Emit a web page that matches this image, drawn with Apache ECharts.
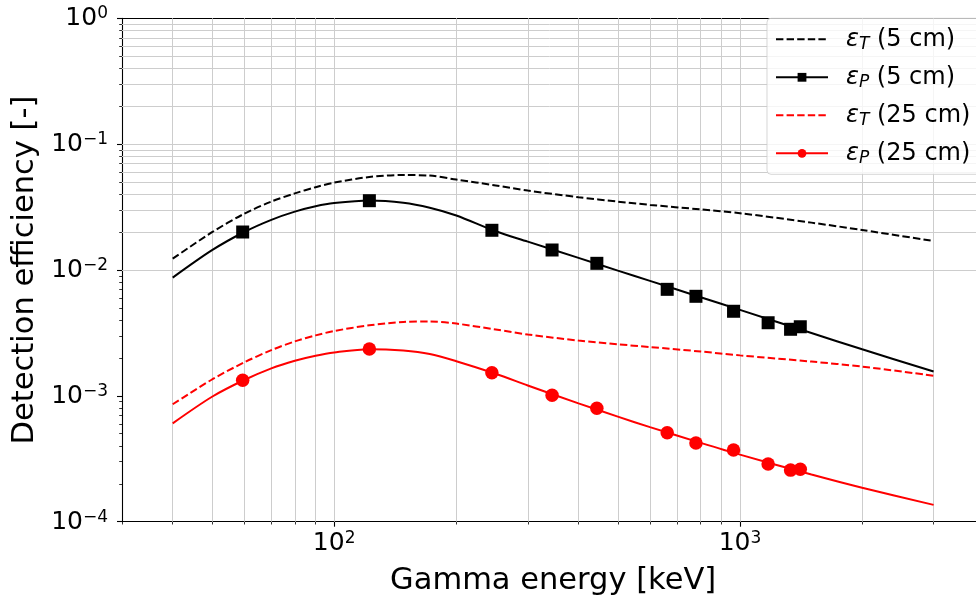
<!DOCTYPE html>
<html>
<head>
<meta charset="utf-8">
<script src="https://cdn.jsdelivr.net/npm/echarts@6/dist/echarts.min.js"></script>
<style>
  html, body { margin: 0; padding: 0; background: #fff; }
  #chart { width: 976px; height: 603px; }
</style>
</head>
<body>
<div id="chart"></div>
<script>
// Energies (keV) at which the efficiency curves are sampled
const energyCurve = [40, 50, 60, 70, 80, 90, 100, 122, 148, 172, 200, 250, 300, 400, 500, 600, 800, 1000, 1500, 2000, 3000];
// Total efficiency, 5 cm
const effTotal5 = [0.01230, 0.01997, 0.02797, 0.03496, 0.04062, 0.04550, 0.04948, 0.05483, 0.05686, 0.05624, 0.05228, 0.04701, 0.04274, 0.03789, 0.03496, 0.03291, 0.03031, 0.02827, 0.02379, 0.02079, 0.01699];
// Full-energy peak efficiency fit, 5 cm
const effPeakFit5 = [0.008701, 0.01437, 0.02004, 0.02505, 0.02911, 0.03208, 0.03401, 0.03566, 0.03425, 0.03126, 0.02710, 0.02030, 0.01681, 0.01248, 0.009890, 0.008190, 0.006079, 0.004818, 0.003157, 0.002344, 0.001561];
// Total efficiency, 25 cm
const effTotal25 = [0.000857, 0.001349, 0.001844, 0.002309, 0.002708, 0.003023, 0.003275, 0.003636, 0.003861, 0.003904, 0.003750, 0.003366, 0.003073, 0.002748, 0.002568, 0.002444, 0.002251, 0.002097, 0.001872, 0.001708, 0.001445];
// Full-energy peak efficiency fit, 25 cm
const effPeakFit25 = [0.000605, 0.000984, 0.001336, 0.001655, 0.001902, 0.002084, 0.002211, 0.002348, 0.002289, 0.002150, 0.001885, 0.001497, 0.001209, 0.000871, 0.000684, 0.000564, 0.000423, 0.000341, 0.000237, 0.000186, 0.000136];

// Calibration gamma lines (keV) and measured peak efficiencies
const energyLines = [59.5, 122.1, 244.7, 344.3, 443.9, 661.7, 778.9, 964.1, 1173.2, 1332.5, 1408.0];
const effPeak5 = [0.02004, 0.03554, 0.02068, 0.01442, 0.01130, 0.00702, 0.00618, 0.00470, 0.00381, 0.00338, 0.00354];
const effPeak25 = [0.001329, 0.002357, 0.001528, 0.001010, 0.000796, 0.000510, 0.000422, 0.000371, 0.000287, 0.000257, 0.000261];

// Axis ticks
const xMajorTicks = [100, 1000];
const xMinorTicks = [30, 40, 50, 60, 70, 80, 90, 200, 300, 400, 500, 600, 700, 800, 900, 2000, 3000, 4000];
const yMajorTicks = [1e-4, 1e-3, 1e-2, 1e-1, 1];
const minorMultipliers = [2, 3, 4, 5, 6, 7, 8, 9];
const yMinorTicks = [];
[-4, -3, -2, -1].forEach(function (p) {
  minorMultipliers.forEach(function (m) { yMinorTicks.push(+(m * Math.pow(10, p)).toPrecision(3)); });
});

const seriesNames = ['εT (5 cm)', 'εP (5 cm)', 'εT (25 cm)', 'εP (25 cm)'];

const FONT = 'DejaVu Sans';
const GRID_COLOR = '#cdcdcd';
const CURVE_SMOOTH = 0.3;

const xRange = { min: 30, max: 4000 };
const yRange = { min: 1e-4, max: 1 };

function pairs(xs, ys) { return xs.map(function (x, i) { return [x, ys[i]]; }); }

function powLabel(v) {
  const p = Math.round(Math.log10(v));
  return '{b|10}{s|' + (p < 0 ? '\u2212' + (-p) : String(p)) + '}';
}
const powRich = {
  b: { fontFamily: FONT, fontSize: 25, lineHeight: 26, color: '#000', verticalAlign: 'bottom' },
  s: { fontFamily: FONT, fontSize: 17, lineHeight: 17, color: '#000', verticalAlign: 'top' }
};

// Grid lines at every major and minor tick inside the plotting area
const gridLines = [];
xMajorTicks.concat(xMinorTicks).forEach(function (v) {
  if (v > xRange.min && v < xRange.max) gridLines.push({ xAxis: v });
});
yMajorTicks.concat(yMinorTicks).forEach(function (v) {
  if (v > yRange.min && v < yRange.max) gridLines.push({ yAxis: v });
});

function logAxis(range, extra) {
  return Object.assign({ type: 'log', logBase: 10, min: range.min, max: range.max,
    splitLine: { show: false }, minorTick: { show: false }, minorSplitLine: { show: false } }, extra);
}

const chart = echarts.init(document.getElementById('chart'), null, { renderer: 'canvas' });

chart.setOption({
  animation: false,
  backgroundColor: '#ffffff',
  textStyle: { fontFamily: FONT },
  grid: { left: 122, right: -8.3, top: 18.3, bottom: 81.3, containLabel: false, outerBoundsMode: 'none' },
  legend: {
    orient: 'vertical',
    left: 767,
    top: 18.3,
    padding: [9, 12, 7, 8],
    itemWidth: 52,
    itemHeight: 11,
    itemGap: 12,
    backgroundColor: 'rgba(255,255,255,0.8)',
    borderColor: 'rgba(204,204,204,0.8)',
    borderWidth: 1,
    borderRadius: 4,
    data: [
      { name: seriesNames[0], itemStyle: { opacity: 0 } },
      { name: seriesNames[1] },
      { name: seriesNames[2], itemStyle: { opacity: 0 } },
      { name: seriesNames[3] }
    ],
    formatter: function (name) {
      const m = name.match(/^ε(\w) (.*)$/);
      return '{e|ε}{u|' + m[1] + '}{t| ' + m[2] + '}';
    },
    textStyle: {
      color: '#000',
      rich: {
        e: { fontFamily: FONT, fontSize: 24, fontStyle: 'italic', lineHeight: 28, verticalAlign: 'middle', padding: [0, 0, 0, 13], color: '#000' },
        u: { fontFamily: FONT, fontSize: 17, fontStyle: 'italic', lineHeight: 13, verticalAlign: 'bottom', color: '#000' },
        t: { fontFamily: FONT, fontSize: 24, lineHeight: 28, verticalAlign: 'middle', color: '#000' }
      }
    }
  },
  xAxis: [
    logAxis(xRange, {
      position: 'bottom',
      name: 'Gamma energy [keV]', nameLocation: 'middle', nameGap: 44,
      nameTextStyle: { fontFamily: FONT, fontSize: 30.5, color: '#000' },
      axisLine: { show: true, onZero: false, lineStyle: { color: '#000', width: 1.1 } },
      axisTick: { show: true, inside: false, length: 5, customValues: xMajorTicks, lineStyle: { color: '#000', width: 1.1 } },
      axisLabel: { show: true, margin: 8, customValues: xMajorTicks, formatter: powLabel, rich: powRich }
    }),
    logAxis(xRange, {
      position: 'bottom',
      axisLine: { show: false, onZero: false },
      axisTick: { show: true, inside: false, length: 2.8, customValues: xMinorTicks, lineStyle: { color: '#000', width: 0.8 } },
      axisLabel: { show: false }
    }),
    logAxis(xRange, {
      position: 'top',
      axisLine: { show: true, onZero: false, lineStyle: { color: '#000', width: 1.1 } },
      axisTick: { show: false }, axisLabel: { show: false }
    })
  ],
  yAxis: [
    logAxis(yRange, {
      position: 'left',
      name: 'Detection efficiency [-]', nameLocation: 'middle', nameGap: 80, nameRotate: 90,
      nameTextStyle: { fontFamily: FONT, fontSize: 30.5, color: '#000' },
      axisLine: { show: true, onZero: false, lineStyle: { color: '#000', width: 1.1 } },
      axisTick: { show: true, inside: false, length: 5, customValues: yMajorTicks, lineStyle: { color: '#000', width: 1.1 } },
      axisLabel: { show: true, margin: 14, customValues: yMajorTicks, formatter: powLabel, rich: powRich }
    }),
    logAxis(yRange, {
      position: 'left',
      axisLine: { show: false, onZero: false },
      axisTick: { show: true, inside: false, length: 2.8, customValues: yMinorTicks, lineStyle: { color: '#000', width: 0.8 } },
      axisLabel: { show: false }
    })
  ],
  series: [
    {
      name: 'grid', type: 'line', xAxisIndex: 0, yAxisIndex: 0, data: [], z: 1, silent: true,
      markLine: {
        silent: true, z: 1, animation: false, symbol: ['none', 'none'],
        label: { show: false }, emphasis: { disabled: true },
        lineStyle: { color: GRID_COLOR, width: 1, type: 'solid' },
        data: gridLines
      }
    },
    {
      name: seriesNames[0], type: 'line', xAxisIndex: 0, yAxisIndex: 0,
      data: pairs(energyCurve, effTotal5), smooth: CURVE_SMOOTH,
      symbol: 'none', showSymbol: false, z: 3,
      lineStyle: { color: '#000', width: 2, type: [7.4, 3.2] }, itemStyle: { color: '#000' }
    },
    {
      name: seriesNames[1], type: 'line', xAxisIndex: 0, yAxisIndex: 0,
      data: pairs(energyCurve, effPeakFit5), smooth: CURVE_SMOOTH,
      symbol: 'rect', symbolSize: 13, showSymbol: false, z: 3,
      lineStyle: { color: '#000', width: 2 }, itemStyle: { color: '#000' }
    },
    {
      name: seriesNames[2], type: 'line', xAxisIndex: 0, yAxisIndex: 0,
      data: pairs(energyCurve, effTotal25), smooth: CURVE_SMOOTH,
      symbol: 'none', showSymbol: false, z: 3,
      lineStyle: { color: '#ff0000', width: 2, type: [7.4, 3.2] }, itemStyle: { color: '#ff0000' }
    },
    {
      name: seriesNames[3], type: 'line', xAxisIndex: 0, yAxisIndex: 0,
      data: pairs(energyCurve, effPeakFit25), smooth: CURVE_SMOOTH,
      symbol: 'circle', symbolSize: 13, showSymbol: false, z: 3,
      lineStyle: { color: '#ff0000', width: 2 }, itemStyle: { color: '#ff0000' }
    },
    {
      name: 'measured 5 cm', type: 'scatter', xAxisIndex: 0, yAxisIndex: 0,
      data: pairs(energyLines, effPeak5), symbol: 'rect', symbolSize: 13, z: 4,
      itemStyle: { color: '#000', opacity: 1 }
    },
    {
      name: 'measured 25 cm', type: 'scatter', xAxisIndex: 0, yAxisIndex: 0,
      data: pairs(energyLines, effPeak25), symbol: 'circle', symbolSize: 13.5, z: 4,
      itemStyle: { color: '#ff0000', opacity: 1 }
    }
  ]
});
</script>
</body>
</html>
